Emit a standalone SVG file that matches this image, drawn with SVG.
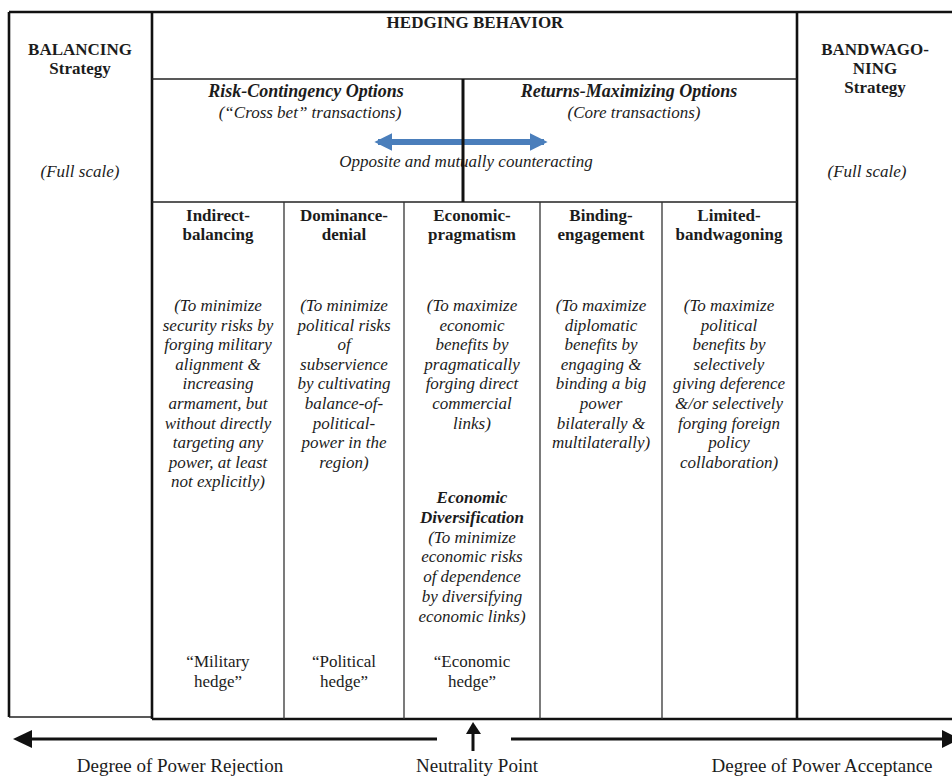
<svg xmlns="http://www.w3.org/2000/svg" width="952" height="778" viewBox="0 0 952 778" font-family="'Liberation Serif', 'Times New Roman', Tinos, 'DejaVu Serif', serif">
<defs>
<style>
text{font-family:"Liberation Serif","Times New Roman",Tinos,"DejaVu Serif",serif;fill:#1c1c1c;text-anchor:middle}
.b{font-weight:bold;font-size:17px}
.i{font-style:italic;font-size:17px}
.bi{font-weight:bold;font-style:italic;font-size:18px}
.r{font-size:17px}
.ax{font-size:19px}
.thick{stroke:#111;stroke-width:2.6;fill:none}
.thin{stroke:#333;stroke-width:1.3;fill:none}
.mid{stroke:#222;stroke-width:1.6;fill:none}
</style>
<marker id="bh" viewBox="0 0 10 10" refX="8" refY="5" markerWidth="3" markerHeight="3" orient="auto-start-reverse" markerUnits="strokeWidth">
<path d="M0,0 L10,5 L0,10 z" fill="#4a7ebb"/>
</marker>
</defs>
<rect width="952" height="778" fill="#fff"/>

<g id="frame">
<line class="thick" x1="9" y1="12" x2="952" y2="12"/>
<line class="thick" x1="9" y1="12" x2="9" y2="717"/>
<line class="mid" x1="9" y1="717" x2="152" y2="717"/>
<line class="thick" x1="152" y1="12" x2="152" y2="719"/>
<line class="thick" x1="797" y1="12" x2="797" y2="719"/>
<line class="thick" x1="152" y1="719" x2="952" y2="719" stroke-width="3"/>
<line class="mid" x1="152" y1="79" x2="797" y2="79"/>
<line class="mid" x1="152" y1="202" x2="797" y2="202"/>
<line class="thin" x1="284" y1="202" x2="284" y2="719"/>
<line class="thin" x1="404" y1="202" x2="404" y2="719"/>
<line class="thin" x1="540" y1="202" x2="540" y2="719"/>
<line class="thin" x1="662" y1="202" x2="662" y2="719"/>
</g>

<g id="balancing">
<text class="b" x="80" y="55">BALANCING</text>
<text class="b" x="80" y="74">Strategy</text>
<text class="i" x="80" y="177">(Full scale)</text>
</g>

<g id="bandwagoning">
<text class="b" x="875" y="55">BANDWAGO-</text>
<text class="b" x="875" y="74">NING</text>
<text class="b" x="875" y="93">Strategy</text>
<text class="i" x="867" y="177">(Full scale)</text>
</g>

<g id="hedging">
<text class="b" x="475" y="28">HEDGING BEHAVIOR</text>
</g>

<g id="risk-contingency">
<text class="bi" x="306" y="97">Risk-Contingency Options</text>
<text class="i" x="310" y="118">(“Cross bet” transactions)</text>
</g>

<g id="returns-maximizing">
<text class="bi" x="629" y="97">Returns-Maximizing Options</text>
<text class="i" x="634" y="118">(Core transactions)</text>
</g>

<g id="opposite">
<text class="i" x="466" y="167" font-size="18.5">Opposite and mutually counteracting</text>
</g>

<g id="connectors">
<line x1="378" y1="142" x2="544" y2="142" stroke="#4a7ebb" stroke-width="6" marker-start="url(#bh)" marker-end="url(#bh)"/>
<line x1="463" y1="79" x2="463" y2="202" stroke="#111" stroke-width="3"/>
<line x1="28" y1="739" x2="437" y2="739" stroke="#111" stroke-width="3"/>
<path d="M13,739 L32,730 L32,748 z" fill="#111"/>
<line x1="511" y1="739" x2="942" y2="739" stroke="#111" stroke-width="3"/>
<path d="M960,739 L942,730 L942,748 z" fill="#111"/>
<line x1="473" y1="751" x2="473" y2="732" stroke="#111" stroke-width="3"/>
<path d="M473,722 L466,734 L481,734 z" fill="#111"/>
</g>

<g id="indirect-balancing">
<text class="b" x="218" y="221">Indirect-</text>
<text class="b" x="218" y="240">balancing</text>
<text class="i" x="218" y="311">(To minimize<tspan x="218" dy="19.6">security risks by</tspan><tspan x="218" dy="19.6">forging military</tspan><tspan x="218" dy="19.6">alignment &amp;</tspan><tspan x="218" dy="19.6">increasing</tspan><tspan x="218" dy="19.6">armament, but</tspan><tspan x="218" dy="19.6">without directly</tspan><tspan x="218" dy="19.6">targeting any</tspan><tspan x="218" dy="19.6">power, at least</tspan><tspan x="218" dy="19.6">not explicitly)</tspan></text>
<text class="r" x="218" y="667">“Military<tspan x="218" dy="20">hedge”</tspan></text>
</g>

<g id="dominance-denial">
<text class="b" x="344" y="221">Dominance-</text>
<text class="b" x="344" y="240">denial</text>
<text class="i" x="344" y="311">(To minimize<tspan x="344" dy="19.6">political risks</tspan><tspan x="344" dy="19.6">of</tspan><tspan x="344" dy="19.6">subservience</tspan><tspan x="344" dy="19.6">by cultivating</tspan><tspan x="344" dy="19.6">balance-of-</tspan><tspan x="344" dy="19.6">political-</tspan><tspan x="344" dy="19.6">power in the</tspan><tspan x="344" dy="19.6">region)</tspan></text>
<text class="r" x="344" y="667">“Political<tspan x="344" dy="20">hedge”</tspan></text>
</g>

<g id="economic-pragmatism">
<text class="b" x="472" y="221">Economic-</text>
<text class="b" x="472" y="240">pragmatism</text>
<text class="i" x="472" y="311">(To maximize<tspan x="472" dy="19.6">economic</tspan><tspan x="472" dy="19.6">benefits by</tspan><tspan x="472" dy="19.6">pragmatically</tspan><tspan x="472" dy="19.6">forging direct</tspan><tspan x="472" dy="19.6">commercial</tspan><tspan x="472" dy="19.6">links)</tspan></text>
<text class="i" x="472" y="503"><tspan font-weight="bold">Economic</tspan><tspan x="472" dy="19.8" font-weight="bold">Diversification</tspan><tspan x="472" dy="19.8">(To minimize</tspan><tspan x="472" dy="19.8">economic risks</tspan><tspan x="472" dy="19.8">of dependence</tspan><tspan x="472" dy="19.8">by diversifying</tspan><tspan x="472" dy="19.8">economic links)</tspan></text>
<text class="r" x="472" y="667">“Economic<tspan x="472" dy="20">hedge”</tspan></text>
</g>

<g id="binding-engagement">
<text class="b" x="601" y="221">Binding-</text>
<text class="b" x="601" y="240">engagement</text>
<text class="i" x="601" y="311">(To maximize<tspan x="601" dy="19.6">diplomatic</tspan><tspan x="601" dy="19.6">benefits by</tspan><tspan x="601" dy="19.6">engaging &amp;</tspan><tspan x="601" dy="19.6">binding a big</tspan><tspan x="601" dy="19.6">power</tspan><tspan x="601" dy="19.6">bilaterally &amp;</tspan><tspan x="601" dy="19.6">multilaterally)</tspan></text>
</g>

<g id="limited-bandwagoning">
<text class="b" x="729" y="221">Limited-</text>
<text class="b" x="729" y="240">bandwagoning</text>
<text class="i" x="729" y="311">(To maximize<tspan x="729" dy="19.6">political</tspan><tspan x="729" dy="19.6">benefits by</tspan><tspan x="729" dy="19.6">selectively</tspan><tspan x="729" dy="19.6">giving deference</tspan><tspan x="729" dy="19.6">&amp;/or selectively</tspan><tspan x="729" dy="19.6">forging foreign</tspan><tspan x="729" dy="19.6">policy</tspan><tspan x="729" dy="19.6">collaboration)</tspan></text>
</g>

<g id="axis-labels">
<text class="ax" x="180" y="772">Degree of Power Rejection</text>
<text class="ax" x="477" y="772">Neutrality Point</text>
<text class="ax" x="822" y="772">Degree of Power Acceptance</text>
</g>
</svg>
